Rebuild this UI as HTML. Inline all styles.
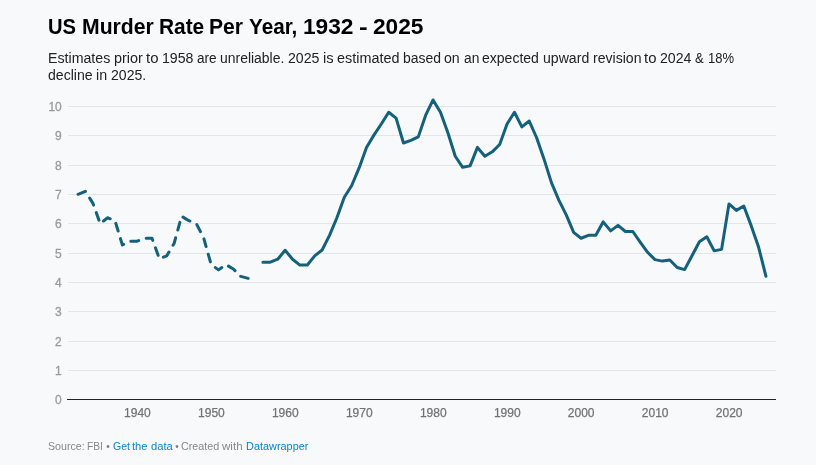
<!DOCTYPE html>
<html lang="en"><head><meta charset="utf-8"><title>US Murder Rate Per Year, 1932 - 2025</title>
<style>
html,body{margin:0;padding:0}
body{width:816px;height:465px;background:#f8f9fb;overflow:hidden;position:relative;font-family:"Liberation Sans",sans-serif;}
.ln{position:absolute;left:48px;margin:0;white-space:nowrap;height:20px;width:760px}
.ln span{position:absolute;top:0;white-space:pre;transform-origin:0 0}
h1.ln{top:14px;font-size:22px;line-height:26px;font-weight:700;color:#000;height:26px}
.d1{top:50px;font-size:14px;line-height:17px;color:#222}
.d2{top:67px;font-size:14px;line-height:17px;color:#222}
.foot{top:440px;font-size:11px;line-height:13px;color:#888}
.foot .lk{color:#0b84c9}
svg{position:absolute;left:0;top:0}
.yl{font-size:12px;fill:#9b9b9b;stroke:#9b9b9b;stroke-width:0.3px;font-family:"Liberation Sans",sans-serif}
.xl{font-size:12px;fill:#727272;stroke:#727272;stroke-width:0.25px;font-family:"Liberation Sans",sans-serif}
</style></head><body>
<h1 class="ln"><span style="left:0.00px;transform:scaleX(0.9182)">US </span><span style="left:33.53px;transform:scaleX(0.9625)">Murder </span><span style="left:110.77px;transform:scaleX(0.9479)">Rate </span><span style="left:161.44px;transform:scaleX(0.9577)">Per </span><span style="left:200.89px;transform:scaleX(0.9413)">Year, </span><span style="left:254.73px;transform:scaleX(1.0316)">1932 </span><span style="left:310.70px;transform:scaleX(1.1834)">- </span><span style="left:324.84px;transform:scaleX(1.0316)">2025 </span></h1>
<p class="ln d1"><span style="left:0.00px;transform:scaleX(1.0135)">Estimates </span><span style="left:65.78px;transform:scaleX(1.0262)">prior </span><span style="left:98.02px;transform:scaleX(1.0642)">to </span><span style="left:113.94px;transform:scaleX(1.0105)">1958 </span><span style="left:148.91px;transform:scaleX(0.9714)">are </span><span style="left:172.05px;transform:scaleX(0.9952)">unreliable. </span><span style="left:239.83px;transform:scaleX(1.0105)">2025 </span><span style="left:274.80px;transform:scaleX(1.0509)">is </span><span style="left:288.92px;transform:scaleX(1.0286)">estimated </span><span style="left:354.84px;transform:scaleX(0.9967)">based </span><span style="left:396.36px;transform:scaleX(1.0090)">on </span><span style="left:415.56px;transform:scaleX(0.9860)">an </span><span style="left:434.41px;transform:scaleX(1.0011)">expected </span><span style="left:494.78px;transform:scaleX(1.0068)">upward </span><span style="left:544.50px;transform:scaleX(1.0049)">revision </span><span style="left:596.47px;transform:scaleX(1.0642)">to </span><span style="left:612.39px;transform:scaleX(1.0105)">2024 </span><span style="left:647.36px;transform:scaleX(0.9331)">&amp; </span><span style="left:659.56px;transform:scaleX(0.9275)">18% </span></p>
<p class="ln d2"><span style="left:0.00px;transform:scaleX(1.0056)">decline </span><span style="left:48.11px;transform:scaleX(1.0215)">in </span><span style="left:62.73px;transform:scaleX(1.0036)">2025. </span></p>
<svg width="816" height="465" viewBox="0 0 816 465">
<line x1="68" x2="776" y1="370.5" y2="370.5" stroke="#e4e5e7" stroke-width="1"/>
<line x1="68" x2="776" y1="341.5" y2="341.5" stroke="#e4e5e7" stroke-width="1"/>
<line x1="68" x2="776" y1="311.5" y2="311.5" stroke="#e4e5e7" stroke-width="1"/>
<line x1="68" x2="776" y1="282.5" y2="282.5" stroke="#e4e5e7" stroke-width="1"/>
<line x1="68" x2="776" y1="253.5" y2="253.5" stroke="#e4e5e7" stroke-width="1"/>
<line x1="68" x2="776" y1="223.5" y2="223.5" stroke="#e4e5e7" stroke-width="1"/>
<line x1="68" x2="776" y1="194.5" y2="194.5" stroke="#e4e5e7" stroke-width="1"/>
<line x1="68" x2="776" y1="165.5" y2="165.5" stroke="#e4e5e7" stroke-width="1"/>
<line x1="68" x2="776" y1="135.5" y2="135.5" stroke="#e4e5e7" stroke-width="1"/>
<line x1="68" x2="776" y1="106.5" y2="106.5" stroke="#e4e5e7" stroke-width="1"/>
<line x1="67" x2="776" y1="399.5" y2="399.5" stroke="#222" stroke-width="1.2"/>
<text x="61.8" y="403.8" text-anchor="end" class="yl">0</text>
<text x="61.8" y="374.8" text-anchor="end" class="yl">1</text>
<text x="61.8" y="345.8" text-anchor="end" class="yl">2</text>
<text x="61.8" y="315.8" text-anchor="end" class="yl">3</text>
<text x="61.8" y="286.8" text-anchor="end" class="yl">4</text>
<text x="61.8" y="257.8" text-anchor="end" class="yl">5</text>
<text x="61.8" y="227.8" text-anchor="end" class="yl">6</text>
<text x="61.8" y="198.8" text-anchor="end" class="yl">7</text>
<text x="61.8" y="169.8" text-anchor="end" class="yl">8</text>
<text x="61.8" y="139.8" text-anchor="end" class="yl">9</text>
<text x="61.8" y="110.8" text-anchor="end" class="yl">10</text>
<text x="137.4" y="417.2" text-anchor="middle" class="xl">1940</text>
<text x="211.4" y="417.2" text-anchor="middle" class="xl">1950</text>
<text x="285.3" y="417.2" text-anchor="middle" class="xl">1960</text>
<text x="359.3" y="417.2" text-anchor="middle" class="xl">1970</text>
<text x="433.3" y="417.2" text-anchor="middle" class="xl">1980</text>
<text x="507.3" y="417.2" text-anchor="middle" class="xl">1990</text>
<text x="581.2" y="417.2" text-anchor="middle" class="xl">2000</text>
<text x="655.2" y="417.2" text-anchor="middle" class="xl">2010</text>
<text x="729.2" y="417.2" text-anchor="middle" class="xl">2020</text>

<path d="M78.00,194.30 L85.40,191.37 L92.80,203.09 L100.19,223.60 L107.59,217.74 L114.99,220.67 L122.38,244.99 L129.78,241.18 L137.18,241.18 L144.58,238.25 L151.97,238.25 L159.37,258.76 L166.77,255.83 L174.17,243.23 L181.56,216.27 L188.96,220.67 L196.36,223.60 L203.76,238.25 L211.16,264.62 L218.55,269.89 L225.95,264.62 L233.35,269.01 L240.75,276.34 L248.14,278.39" fill="none" stroke="#15607a" stroke-width="3" stroke-linecap="round" stroke-linejoin="round" stroke-dasharray="8,7.96"/>
<path d="M262.94,262.13 L270.34,262.13 L277.73,259.20 L285.13,250.26 L292.53,259.20 L299.93,265.06 L307.32,265.06 L314.72,255.83 L322.12,249.97 L329.51,235.32 L336.91,217.74 L344.31,197.23 L351.71,185.51 L359.11,167.93 L366.50,147.42 L373.90,135.11 L381.30,123.98 L388.69,112.26 L396.09,118.12 L403.49,143.02 L410.89,140.39 L418.29,136.87 L425.68,115.19 L433.08,99.95 L440.48,112.26 L447.88,132.77 L455.27,156.21 L462.67,167.34 L470.07,165.88 L477.46,147.42 L484.86,156.21 L492.26,151.81 L499.66,144.49 L507.06,123.98 L514.45,112.26 L521.85,126.91 L529.25,121.05 L536.64,137.75 L544.04,159.14 L551.44,182.58 L558.84,200.16 L566.24,214.81 L573.63,232.39 L581.03,238.25 L588.43,235.32 L595.83,235.32 L603.22,221.84 L610.62,230.92 L618.02,225.36 L625.41,231.51 L632.81,231.51 L640.21,242.06 L647.61,252.31 L655.00,259.64 L662.40,261.10 L669.80,259.93 L677.20,267.55 L684.60,269.60 L691.99,255.83 L699.39,241.77 L706.79,236.78 L714.18,250.85 L721.58,249.38 L728.98,203.97 L736.38,210.41 L743.77,206.02 L751.17,225.65 L758.57,247.04 L765.97,276.34" fill="none" stroke="#15607a" stroke-width="3" stroke-linecap="round" stroke-linejoin="round"/>
</svg>
<div class="ln foot"><span style="left:0.00px;transform:scaleX(0.9691)">Source: </span><span style="left:39.48px;transform:scaleX(0.9307)">FBI </span><span style="left:58.36px;top:-0.4px;font-size:10px;color:#7a7a7a">• </span><span class="lk" style="left:64.61px;transform:scaleX(0.9551)">Get </span><span class="lk" style="left:84.28px;transform:scaleX(1.0133)">the </span><span class="lk" style="left:102.52px;transform:scaleX(1.0168)">data </span><span style="left:127.23px;top:-0.4px;font-size:10px;color:#7a7a7a">• </span><span style="left:133.48px;transform:scaleX(0.9772)">Created </span><span style="left:174.47px;transform:scaleX(1.0535)">with </span><span class="lk" style="left:197.81px;transform:scaleX(0.9918)">Datawrapper </span></div>
</body></html>
